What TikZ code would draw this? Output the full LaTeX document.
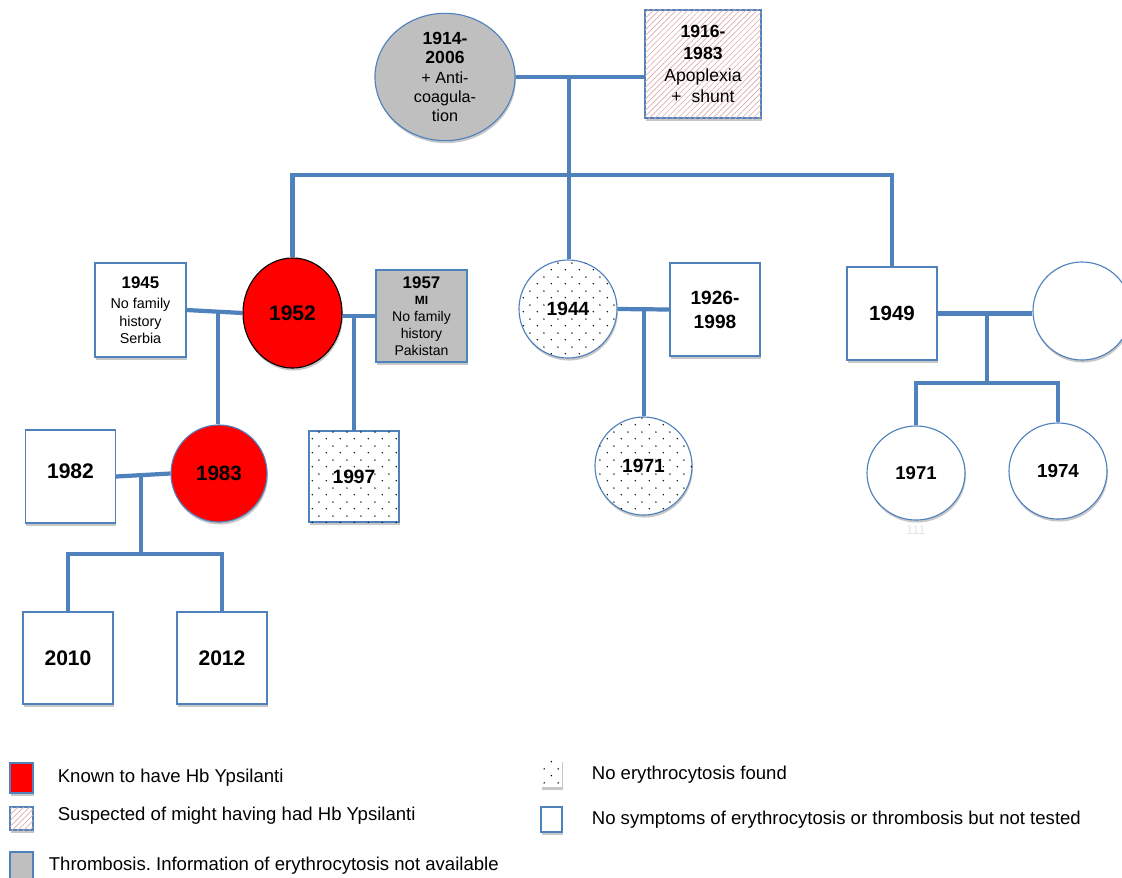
\documentclass[tikz,border=0pt]{standalone}
\usepackage{fontspec}
\setmainfont{Liberation Sans}
\frenchspacing
\usetikzlibrary{shapes.geometric, positioning, calc, shadows, patterns.meta}
\definecolor{kinblue}{RGB}{79,129,189}
\definecolor{hbred}{RGB}{255,0,0}
\definecolor{thrombgrey}{RGB}{191,191,191}
\definecolor{hatchpink}{RGB}{222,170,170}
\newcommand{\yearb}[2][12.5]{{\bfseries\fontsize{#1}{#1}\selectfont #2}}
\tikzdeclarepattern{
    name=sparsedots,
    type=uncolored,
    bounding box={(0pt,0pt) and (10pt,10pt)},
    tile size={(10pt,10pt)},
    code={
        \pgfpathcircle{\pgfpoint{2.5pt}{2.5pt}}{0.6pt}
        \pgfpathcircle{\pgfpoint{7.5pt}{7.5pt}}{0.6pt}
        \pgfusepath{fill}
    }
}
\tikzset{
    kin/.style={draw=kinblue, line width=3pt},
    person/.style={
        draw=kinblue, line width=0.8pt, fill=white,
        align=center, inner sep=0pt,
        drop shadow={shadow xshift=0.6pt, shadow yshift=-1.8pt, opacity=0.22, fill=black}
    },
    male/.style={person, rectangle, minimum width=2.25cm, minimum height=2.325cm},
    female/.style={person, ellipse, minimum width=2.45cm, minimum height=2.45cm},
    yr/.style={font=\bfseries\fontsize{#1}{#1}\selectfont},
    % Phenotype fills
    affected/.style={fill=hbred},
    suspect/.style={postaction={pattern={Lines[angle=45, distance=2.9pt, line width=0.45pt]}, pattern color=hatchpink}},
    tested/.style={postaction={pattern=sparsedots, pattern color=black}},
    thromb/.style={fill=thrombgrey},
    % Legend styles
    keybox/.style={
        rectangle, draw=kinblue, line width=0.8pt, fill=white, inner sep=0pt,
        drop shadow={shadow xshift=0.6pt, shadow yshift=-1.8pt, opacity=0.22, fill=black}
    },
    keytext/.style={anchor=west, inner sep=0pt, font=\fontsize{13.2}{15}\selectfont}
}
\begin{document}
\begin{tikzpicture}[x=0.025cm, y=-0.025cm]
    \useasboundingbox (0,0) rectangle (1122,877);

    % Generation I
    \node [female, thromb, minimum width=3.5cm, minimum height=3.075cm, font=\fontsize{11.5}{13.8}\selectfont] (gma) at (445,77)
        {\yearb{1914-}\\\yearb{2006}\\+ Anti-\\coagula-\\tion};
    \node [male, suspect, minimum width=2.9cm, minimum height=2.7cm, font=\fontsize{12.5}{15.6}\selectfont] (gpa) at (703,64)
        {\yearb{1916-}\\\yearb{1983}\\Apoplexia\\+\ \ shunt};

    % Generation II
    \node [male, minimum width=2.275cm, minimum height=2.35cm, font=\fontsize{10.2}{12.5}\selectfont] (h1945) at (140.5,310)
        {\yearb[12]{1945}\\[2pt]No family\\history\\Serbia};
    \node [female, affected, draw=black, minimum width=2.475cm, minimum height=2.75cm, yr=15] (d1952) at (292.5,313) {1952};
    \node [male, thromb, minimum width=2.275cm, minimum height=2.3cm, font=\fontsize{10}{12}\selectfont] (h1957) at (421.5,316)
        {\yearb[12]{1957}\\\yearb[8.5]{MI}\\No family\\history\\Pakistan};
    \node [female, tested, yr=13.6] (d1944) at (568,309) {1944};
    \node [male, font=\bfseries\fontsize{13.6}{17}\selectfont] (h1926) at (715,309.5) {1926-\\1998};
    \node [male, yr=14.6] (s1949) at (892,313.5) {1949};
    \node [female] (w1949) at (1082,311) {};

    % Generation III
    \node [male, yr=15] (h1982) at (70.5,476.5) {\raisebox{8pt}{1982}};
    \node [female, affected, minimum width=2.4cm, minimum height=2.425cm, yr=14.7] (g1983) at (219,473.5) {1983};
    \node [male, tested, minimum height=2.275cm, yr=13.7] (s1997) at (354,476.5) {1997};
    \node [female, tested, minimum width=2.425cm, yr=13.6] (d1971a) at (643.5,466) {1971};
    \node [female, minimum height=2.35cm, yr=13.2] (d1971b) at (916,473) {1971};
    \node [female, minimum height=2.4cm, yr=13.4] (d1974) at (1058,471) {1974};
    \node [text=gray!22, font=\fontsize{9}{9}\selectfont] (ghost) at (916,530) {111};

    % Generation IV
    \node [male, minimum height=2.3cm, yr=15] (s2010) at (68,658) {2010};
    \node [male, minimum height=2.3cm, yr=15] (s2012) at (222,658) {2012};

    % Family lines
    \coordinate (gmid) at (569,77);
    \coordinate (sib) at (569,175);
    \draw [kin] (gma.east) -- (gma.east -| gpa.west);
    \draw [kin] (gmid) -- (sib);
    \draw [kin] (d1952.north) |- (sib) -| (s1949.north);
    \draw [kin] (sib) -- (sib |- d1944.north);

    \coordinate (m1) at (218,311);
    \draw [kin] (h1945.east) -- (d1952.west);
    \draw [kin] (m1) -- (m1 |- g1983.north);

    \coordinate (m2) at (354,316);
    \draw [kin] (h1957.west) -- (h1957.west -| d1952.east);
    \draw [kin] (m2) -- (m2 |- s1997.north);

    \coordinate (m3) at (644,309);
    \draw [kin] (d1944.east) -- (h1926.west);
    \draw [kin] (m3) -- (m3 |- d1971a.north);

    \coordinate (m4) at (987,313.5);
    \coordinate (kids4) at (987,383);
    \draw [kin] (s1949.east) -- (s1949.east -| w1949.west);
    \draw [kin] (m4) -- (kids4);
    \draw [kin] (d1971b.north) |- (kids4) -| (d1974.north);

    \coordinate (m5) at (141,475);
    \coordinate (kids5) at (141,554);
    \draw [kin] (h1982.east) -- (g1983.west);
    \draw [kin] (m5) -- (kids5);
    \draw [kin] (s2010.north) |- (kids5) -| (s2012.north);

    % Legend
    \node [keybox, fill=hbred, minimum width=0.575cm, minimum height=0.75cm] (keyred) at (21.5,778) {};
    \node [keytext, right=0.6cm of keyred] (keyredtext) {Known to have Hb Ypsilanti};
    \node [keybox, suspect, minimum width=0.575cm, minimum height=0.575cm] (keyhatch) at (21.5,818.5) {};
    \node [keytext, right=0.6cm of keyhatch, yshift=2pt] (keyhatchtext) {Suspected of might having had Hb Ypsilanti};
    \node [keybox, thromb, minimum width=0.575cm, minimum height=0.7cm] (keygrey) at (21.5,866) {};
    \node [keytext, right=0.375cm of keygrey] (keygreytext) {Thrombosis. Information of erythrocytosis not available};
    \node [keybox, draw=none, tested, minimum width=0.525cm, minimum height=0.7cm] (keydots) at (551.5,773) {};
    \node [keytext, right=0.725cm of keydots, yshift=-1.5pt] (keydotstext) {No erythrocytosis found};
    \node [keybox, minimum width=0.525cm, minimum height=0.625cm] (keywhite) at (551.5,819.5) {};
    \node [keytext, right=0.725cm of keywhite] (keywhitetext) {No symptoms of erythrocytosis or thrombosis but not tested};
\end{tikzpicture}
\end{document}
